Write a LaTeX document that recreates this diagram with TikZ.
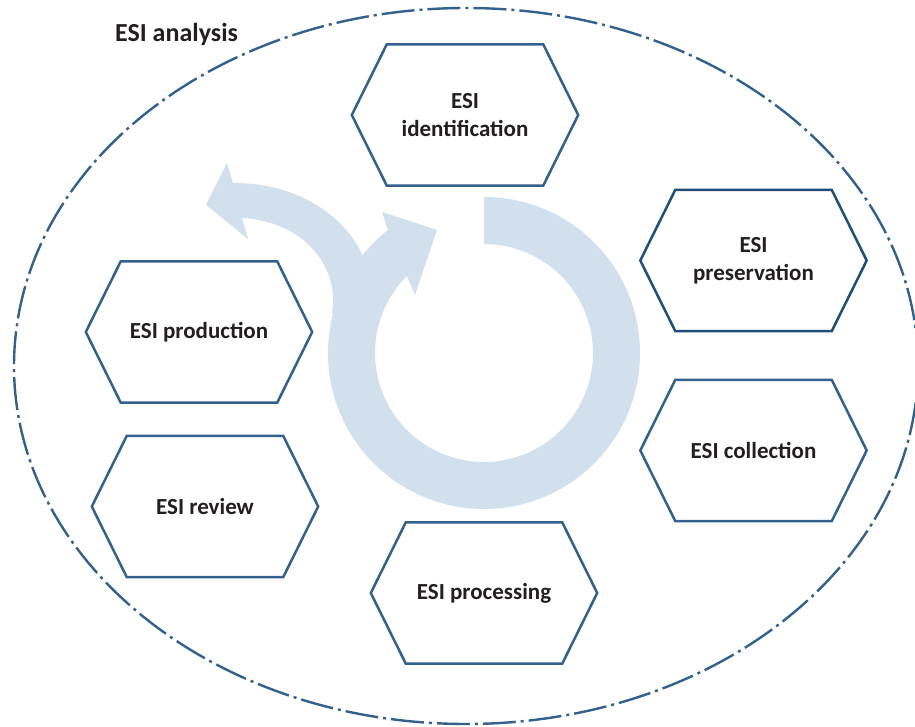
\documentclass[tikz,border=0pt]{standalone}
\usepackage{fontspec}
\setmainfont{Carlito}
\usetikzlibrary{calc}
\definecolor{hexline}{HTML}{34608C}
\definecolor{hexdark}{HTML}{1F4E79}
\definecolor{arrowfill}{HTML}{D2DFED}
\definecolor{txt}{HTML}{231F20}
\newcommand\hexfont{\fontsize{23}{28}\selectfont\bfseries}
\newcommand\hexframe[2]{\draw[line width=2.5pt,draw=#1,line join=miter] (#2.north west) -- (#2.north east) -- ([xshift=35pt]#2.east) -- (#2.south east) -- (#2.south west) -- ([xshift=-35pt]#2.west) -- cycle;}
\tikzset{
  hexbox/.style={minimum width=156pt, minimum height=141pt, inner sep=0pt, align=center, font=\hexfont, text=txt},
  ellline/.style={draw=hexline, line width=2.4pt, dash pattern=on 33pt off 5pt on 3pt off 5pt},
}
\begin{document}
\begin{tikzpicture}[x=1pt,y=1pt]
\useasboundingbox (0,0) rectangle (915,727);
\fill[white] (0,0) rectangle (915,727);
% outer dash-dot ellipse
\draw[ellline] (466,361) ellipse [x radius=452, y radius=358];
% circular arrow
\coordinate (rc) at (484,374);
\fill[arrowfill] ($(rc)+(90:156)$) arc[start angle=90, end angle=-232, radius=156]
  -- (382,515) -- (437,497) -- (415,432) -- ($(rc)+(135:109)$)
  arc[start angle=-225, end angle=90, radius=109] -- cycle;
% branching arrow to the left
\fill[arrowfill] (206,522) -- (227,564) -- (233,544)
  .. controls (300,544) and (345,510) .. (363,471)
  -- (380,427) -- (345,407) -- (332,414)
  .. controls (340,462) and (302,506) .. (242,509)
  -- (248,488) -- cycle;
% title
\node[anchor=base west, font=\fontsize{26}{30}\selectfont\bfseries, text=txt, inner sep=0pt] (title) at (115,685) {ESI analysis};
% hexagons
\node[hexbox] (ident) at (465,612) {ESI\\identification};
\node[hexbox] (pres) at (753.5,466.5) {ESI\\preservation};
\node[hexbox] (coll) at (753.5,276.5) {ESI collection};
\node[hexbox] (proc) at (484,134) {ESI processing};
\node[hexbox] (prod) at (199,395) {ESI production};
\node[hexbox] (rev) at (205,220.5) {ESI review};
\hexframe{hexline}{ident}
\hexframe{hexdark}{pres}
\hexframe{hexline}{coll}
\hexframe{hexline}{proc}
\hexframe{hexline}{prod}
\hexframe{hexline}{rev}
\end{tikzpicture}
\end{document}
